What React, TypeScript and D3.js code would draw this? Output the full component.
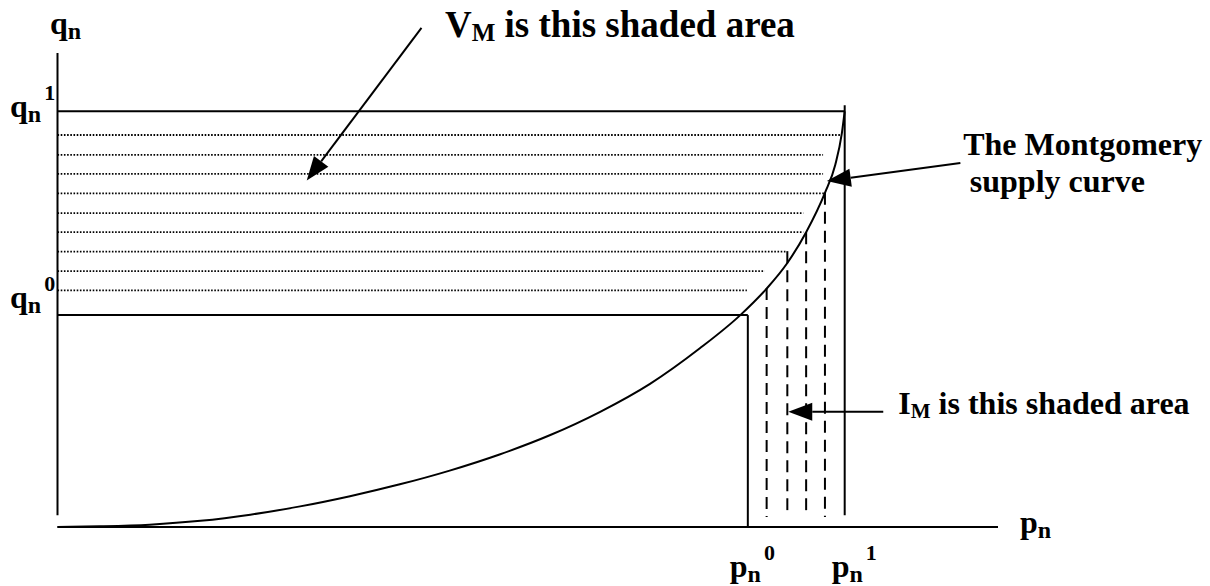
import React from "react";
import * as d3 from "d3";

// ---- data (in chart units: p on x, q on y) ----
const curveP = [0, 4.5, 9.8, 15.2, 20.5, 25.8, 31.1, 36.4, 41.7, 47.0, 52.4, 57.7, 63.0, 68.3, 72.6, 75.4, 77.6, 79.6, 81.6, 82.7, 83.4, 83.7];
const curveQ = [0, 0.15, 0.5, 1.3, 2.6, 4.35, 6.5, 9.0, 11.9, 15.3, 19.4, 24.3, 30.2, 37.7, 44.7, 50.3, 55.7, 62.2, 70.5, 76.4, 83.1, 87.7];

const P0 = 73.4;
const P1 = 83.7;
const Q0 = 44.7;
const Q1 = 87.7;

const dottedQ = [82.7, 78.5, 74.5, 70.4, 66.2, 62.2, 58.1, 54.0, 49.9];
const dottedEndP = [83.4, 81.4, 81.4, 81.5, 79.3, 79.3, 77.4, 75.2, 73.3];

const dashedP = [75.4, 77.6, 79.6, 81.6];
const dashedTopQ = [50.4, 58.2, 62.2, 70.5];
const dashedBottomQ = 2.1;

const p1LineTopQ = 89.0;
const innerBottomQ = 2.5;
const axisTopQ = 100;
const axisEndP = 100;

// annotation anchors (chart units)
const vmArrow = { from: [38.7, 105.3], to: [26.5, 73.1] };
const mgArrow = { from: [96.0, 76.8], to: [81.8, 73.0] };
const imArrow = { from: [87.8, 24.3], to: [77.7, 24.3] };

const titleAt = [41.2, 103.4];
const mgLine1At = [96.3, 78.5];
const mgLine2At = [97.0, 70.7];
const imAt = [89.4, 23.8];

const W = 1210;
const H = 586;

const x = d3.scaleLinear().domain([0, 100]).range([57.5, 998]);
const y = d3.scaleLinear().domain([0, 100]).range([527, 53]);

const FONT = "'Liberation Serif', 'Times New Roman', serif";

function Arrow({ from, to }: { from: number[]; to: number[] }) {
  const x1 = x(from[0]), y1 = y(from[1]);
  const x2 = x(to[0]), y2 = y(to[1]);
  const ang = Math.atan2(y2 - y1, x2 - x1);
  const len = 24, hw = 9;
  const bx = x2 - len * Math.cos(ang), by = y2 - len * Math.sin(ang);
  const px = -Math.sin(ang) * hw, py = Math.cos(ang) * hw;
  const pts = `${x2},${y2} ${bx + px},${by + py} ${bx - px},${by - py}`;
  return (
    <g>
      <line x1={x1} y1={y1} x2={bx} y2={by} stroke="#000" strokeWidth={2} />
      <polygon points={pts} fill="#000" />
    </g>
  );
}

function TickLabel({ base, sup, tx, ty }: { base: string; sup?: string; tx: number; ty: number }) {
  return (
    <text x={tx} y={ty} fontFamily={FONT} fontWeight="bold" fontSize={32} fill="#000">
      <tspan>{base}</tspan>
      <tspan fontSize={24} dy={5}>n</tspan>
      {sup ? <tspan fontSize={22} dx={3} dy={-22}>{sup}</tspan> : null}
    </text>
  );
}

export default function App() {
  const line = d3
    .line<number>()
    .x((_, i) => x(curveP[i]))
    .y((_, i) => y(curveQ[i]))
    .curve(d3.curveMonotoneX);
  const curvePath = line(curveP) || "";

  return (
    <svg width={W} height={H} style={{ position: "absolute", left: 0, top: 0, background: "#fff" }}>
      <rect width={W} height={H} fill="#fff" />
      {/* dotted shading (V_M) */}
      {dottedQ.map((q, i) => (
        <line key={"d" + i} x1={x(0)} x2={x(dottedEndP[i])} y1={y(q)} y2={y(q)} stroke="#000" strokeWidth={1.8} strokeDasharray="1.6,1.6" />
      ))}
      {/* dashed shading (I_M) */}
      {dashedP.map((p, i) => (
        <line key={"s" + i} x1={x(p)} x2={x(p)} y1={y(dashedTopQ[i])} y2={y(dashedBottomQ)} stroke="#000" strokeWidth={2} strokeDasharray="12,7" />
      ))}
      {/* axes */}
      <line x1={x(0)} x2={x(0)} y1={y(axisTopQ)} y2={y(innerBottomQ)} stroke="#000" strokeWidth={2} />
      <line x1={x(0)} x2={x(axisEndP)} y1={y(0)} y2={y(0)} stroke="#000" strokeWidth={2} />
      {/* q1 and q0 rectangles */}
      <line x1={x(0)} x2={x(P1)} y1={y(Q1)} y2={y(Q1)} stroke="#000" strokeWidth={2} />
      <line x1={x(P1)} x2={x(P1)} y1={y(p1LineTopQ)} y2={y(innerBottomQ)} stroke="#000" strokeWidth={2} />
      <line x1={x(0)} x2={x(P0)} y1={y(Q0)} y2={y(Q0)} stroke="#000" strokeWidth={2} />
      <line x1={x(P0)} x2={x(P0)} y1={y(Q0)} y2={y(0)} stroke="#000" strokeWidth={2} />
      {/* supply curve */}
      <path d={curvePath} fill="none" stroke="#000" strokeWidth={2} />
      {/* arrows */}
      <Arrow from={vmArrow.from} to={vmArrow.to} />
      <Arrow from={mgArrow.from} to={mgArrow.to} />
      <Arrow from={imArrow.from} to={imArrow.to} />
      {/* axis labels */}
      <TickLabel base="q" tx={x(0) - 7.5} ty={y(0) - 493} />
      <TickLabel base="q" sup="1" tx={x(0) - 47.5} ty={y(Q1) + 5.5} />
      <TickLabel base="q" sup="0" tx={x(0) - 47.5} ty={y(Q0) - 7} />
      <TickLabel base="p" sup="0" tx={x(P0) - 18} ty={y(0) + 50} />
      <TickLabel base="p" sup="1" tx={x(P1) - 13} ty={y(0) + 50} />
      <TickLabel base="p" tx={x(axisEndP) + 22} ty={y(0) + 6} />
      {/* annotations */}
      <text x={x(titleAt[0])} y={y(titleAt[1])} fontFamily={FONT} fontWeight="bold" fontSize={37} fill="#000">
        <tspan>V</tspan>
        <tspan fontSize={25} dy={4}>M</tspan>
        <tspan dy={-4}> is this shaded area</tspan>
      </text>
      <text x={x(mgLine1At[0])} y={y(mgLine1At[1])} fontFamily={FONT} fontWeight="bold" fontSize={32} fill="#000">The Montgomery</text>
      <text x={x(mgLine2At[0])} y={y(mgLine2At[1])} fontFamily={FONT} fontWeight="bold" fontSize={32} fill="#000">supply curve</text>
      <text x={x(imAt[0])} y={y(imAt[1])} fontFamily={FONT} fontWeight="bold" fontSize={32} fill="#000">
        <tspan>I</tspan>
        <tspan fontSize={21} dy={4}>M</tspan>
        <tspan dy={-4}> is this shaded area</tspan>
      </text>
    </svg>
  );
}
